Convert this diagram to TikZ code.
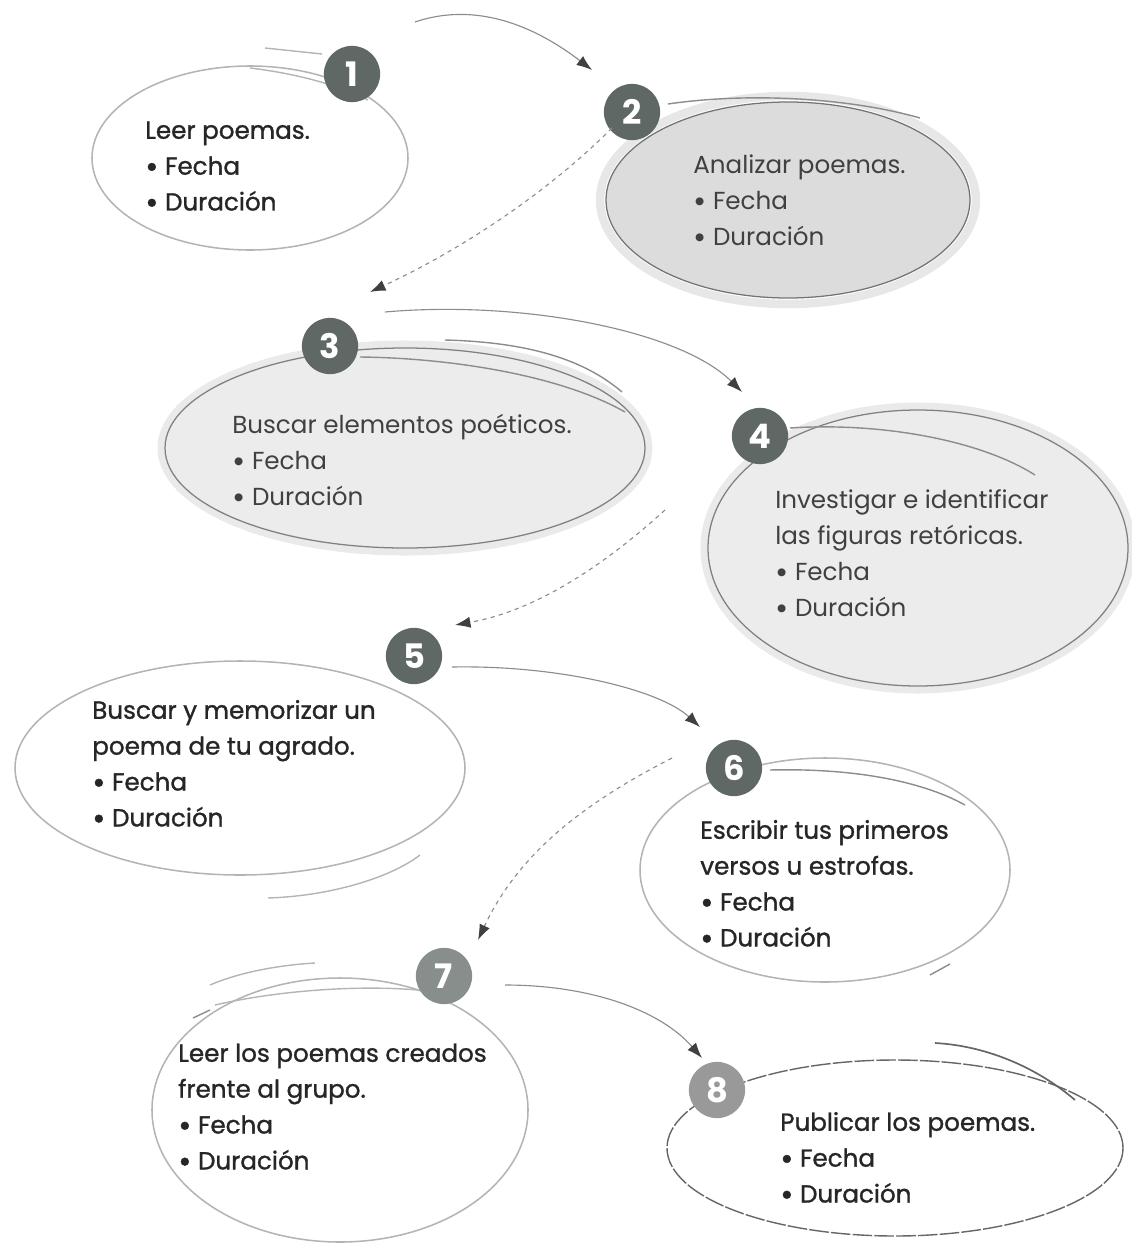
\documentclass[tikz,border=0pt]{standalone}
\usepackage{fontspec}
\setmainfont{Poppins}
\newfontfamily\heavyfont{Poppins}[FakeBold=1.2]
\usetikzlibrary{arrows.meta}

\definecolor{numgray}{HTML}{5F6865}
\definecolor{ringgray}{HTML}{B4B4B4}
\definecolor{shadegray}{HTML}{DCDCDC}

\tikzset{
  ring/.style={draw=ringgray, line width=1.1pt},
  shadedring/.style={draw=black!55, line width=0.9pt, fill=shadegray},
  sketch/.style={draw=black!45, line width=1pt},
  numdot/.style={circle, fill=numgray, minimum size=40pt, inner sep=0pt,
    text=white, font=\bfseries\fontsize{24}{24}\selectfont},
  steptext/.style={anchor=north west, align=left, inner sep=0pt,
    font=\heavyfont\fontsize{17.5}{25.5}\selectfont, text=black!85},
  lighttext/.style={steptext, font=\fontsize{17.5}{25.5}\selectfont, text=black!75},
  flow/.style={draw=black!45, line width=0.8pt, -{Latex[length=11pt,width=8pt,color=black!75]}},
  flowdash/.style={flow, dashed}
}

\newcommand{\firstline}{\rule{0pt}{16pt}}
\newcommand{\dotitem}{\raisebox{-0.22ex}{\scalebox{1.3}{\textbullet}}\ }

\begin{document}
\begin{tikzpicture}[x=0.025cm,y=-0.025cm]
    \useasboundingbox (0,0) rectangle (1131,1249);

    % ellipses
    \draw[ring] (250,158) ellipse [x radius=158, y radius=92];
    \draw[shadegray!70, line width=6pt] (788,200) ellipse [x radius=188, y radius=104];
    \draw[shadedring] (788,200) ellipse [x radius=182, y radius=98];
    \draw[shadegray!60, line width=5pt] (405,448) ellipse [x radius=244, y radius=104];
    \draw[draw=black!50, line width=0.9pt, fill=shadegray!55] (405,448) ellipse [x radius=240, y radius=100];
    \draw[shadegray!60, line width=5pt] (918,548) ellipse [x radius=214, y radius=142];
    \draw[draw=black!50, line width=0.9pt, fill=shadegray!55] (918,548) ellipse [x radius=210, y radius=138];
    \draw[ring] (240,768) ellipse [x radius=225, y radius=107];
    \draw[ring] (825,870) ellipse [x radius=185, y radius=112];
    \draw[ring] (340,1110) ellipse [x radius=188, y radius=132];
    \draw[draw=black!60, line width=1pt, dash pattern=on 14pt off 1.5pt] (895,1148) ellipse [x radius=228, y radius=88];

    % sketch strokes
    \draw[ringgray, line width=1pt] (265,48) -- (322,54);
    \draw[ringgray, line width=1pt] (250,68) .. controls (300,74) and (340,86) .. (368,100);
    \draw[sketch] (668,104) .. controls (750,92) and (850,98) .. (920,118);
    \draw[sketch] (360,357) .. controls (450,358) and (560,375) .. (625,412);
    \draw[sketch] (445,340) .. controls (520,342) and (580,356) .. (622,392);
    \draw[sketch] (790,428) .. controls (880,422) and (980,440) .. (1035,475);
    \draw[ringgray, line width=1pt] (268,898) .. controls (330,896) and (390,878) .. (420,855);
    \draw[sketch] (770,770) .. controls (850,768) and (920,780) .. (965,805);
    \draw[sketch] (930,975) -- (950,964);
    \draw[sketch] (193,1018) -- (210,1010);
    \draw[ringgray, line width=1pt] (210,985) .. controls (240,972) and (280,965) .. (315,963);
    \draw[ringgray, line width=1pt] (215,1005) .. controls (280,990) and (360,985) .. (418,990);
    \draw[draw=black!60, line width=1.2pt] (935,1043) .. controls (990,1046) and (1040,1070) .. (1075,1100);

    % numbers
    \node[numdot] (n1) at (352,74) {1};
    \node[numdot] (n2) at (632,112) {2};
    \node[numdot] (n3) at (330,346) {3};
    \node[numdot] (n4) at (760,436) {4};
    \node[numdot] (n5) at (414,656) {5};
    \node[numdot] (n6) at (734,768) {6};
    \node[numdot, fill=numgray!75] (n7) at (444,976) {7};
    \node[numdot, fill=black!40] (n8) at (717,1090) {8};

    % texts
    \node[steptext] (t1) at (145,116) {\firstline Leer poemas.\\\dotitem Fecha\\\dotitem Duración};
    \node[lighttext] (t2) at (693,151) {\firstline Analizar poemas.\\\dotitem Fecha\\\dotitem Duración};
    \node[lighttext] (t3) at (232,411) {\firstline Buscar elementos poéticos.\\\dotitem Fecha\\\dotitem Duración};
    \node[lighttext] (t4) at (775,486) {\firstline Investigar e identificar\\las figuras retóricas.\\\dotitem Fecha\\\dotitem Duración};
    \node[steptext] (t5) at (92,696) {\firstline Buscar y memorizar un\\poema de tu agrado.\\\dotitem Fecha\\\dotitem Duración};
    \node[steptext] (t6) at (700,816) {\firstline Escribir tus primeros\\versos u estrofas.\\\dotitem Fecha\\\dotitem Duración};
    \node[steptext] (t7) at (178,1039) {\firstline Leer los poemas creados\\frente al grupo.\\\dotitem Fecha\\\dotitem Duración};
    \node[steptext] (t8) at (780,1108) {\firstline Publicar los poemas.\\\dotitem Fecha\\\dotitem Duración};

    % arrows
    \coordinate (a1) at (415,22);
    \coordinate (b2) at (592,70);
    \coordinate (a2) at (612,128);
    \coordinate (b3) at (370,292);
    \coordinate (a3) at (385,312);
    \coordinate (b4) at (742,392);
    \coordinate (a4) at (665,510);
    \coordinate (b5) at (455,625);
    \coordinate (a5) at (452,667);
    \coordinate (b6) at (700,727);
    \coordinate (a6) at (672,758);
    \coordinate (b7) at (478,940);
    \coordinate (a7) at (505,985);
    \coordinate (b8) at (702,1058);
    \draw[flow] (a1) .. controls (480,0) and (540,30) .. (b2);
    \draw[flowdash] (a2) .. controls (540,200) and (450,255) .. (b3);
    \draw[flow] (a3) .. controls (520,300) and (680,330) .. (b4);
    \draw[flowdash] (a4) .. controls (610,560) and (540,610) .. (b5);
    \draw[flow] (a5) .. controls (560,665) and (660,690) .. (b6);
    \draw[flowdash] (a6) .. controls (590,800) and (520,850) .. (b7);
    \draw[flow] (a7) .. controls (590,985) and (660,1010) .. (b8);
\end{tikzpicture}
\end{document}
